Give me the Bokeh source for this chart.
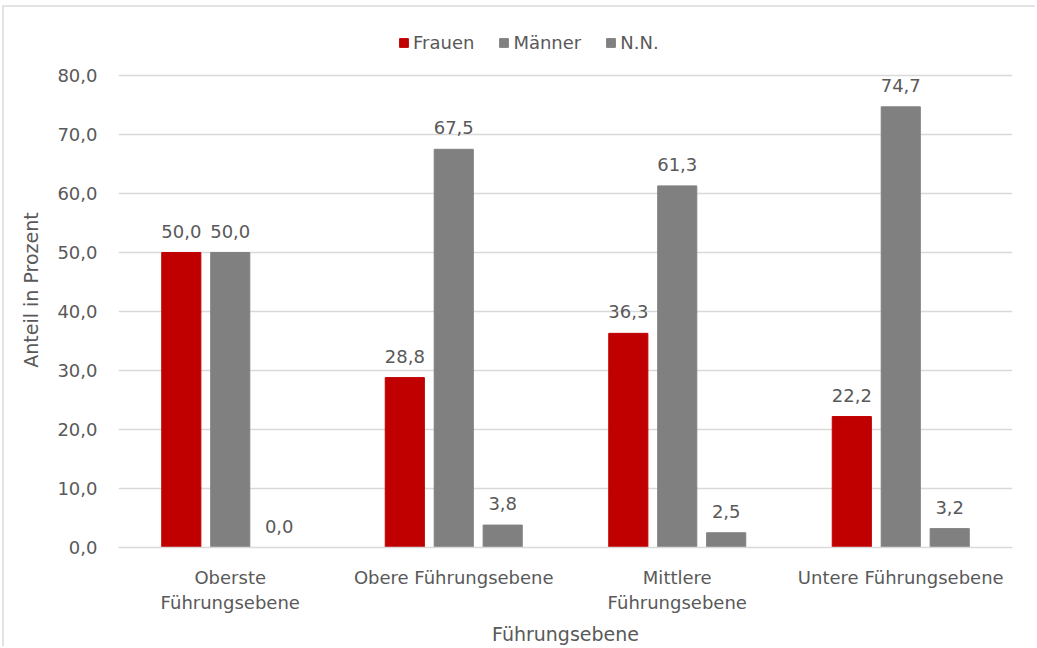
from bokeh.plotting import figure
from bokeh.models import (ColumnDataSource, FactorRange, Range1d, LabelSet, Legend,
                          LegendItem, FixedTicker, CustomJSTickFormatter)
from bokeh.core.properties import value
from bokeh.transform import dodge
from bokeh.embed import file_html
from bokeh.resources import INLINE

# Management levels (categories), two-line where the label is wrapped
levels = ["Oberste\nFührungsebene", "Obere Führungsebene",
          "Mittlere\nFührungsebene", "Untere Führungsebene"]

# Share in percent per group
frauen = [50.0, 28.8, 36.3, 22.2]
maenner = [50.0, 67.5, 61.3, 74.7]
nn = [0.0, 3.8, 2.5, 3.2]

series_names = ["Frauen", "Männer", "N.N."]
series_cols = ["frauen", "maenner", "nn"]
series_colors = ["#C00000", "#808080", "#808080"]
y_ticks = [0, 10, 20, 30, 40, 50, 60, 70, 80]


def fmt(v):
    return f"{v:.1f}".replace(".", ",")


source = ColumnDataSource(data=dict(
    level=levels,
    frauen=frauen, maenner=maenner, nn=nn,
    frauen_lbl=[fmt(v) for v in frauen],
    maenner_lbl=[fmt(v) for v in maenner],
    nn_lbl=[fmt(v) for v in nn],
))

FONT = "DejaVu Sans"
TEXT = "#595959"
GRID = "#d9d9d9"

# the frame reaches above the 80 gridline to leave room for the legend
p = figure(width=1033, height=641, output_backend="svg", toolbar_location=None,
           x_range=FactorRange(factors=levels, range_padding=0),
           y_range=Range1d(0, 87.3),
           min_border_left=114, min_border_right=25,
           min_border_top=25, min_border_bottom=101)
p.styles = {"border-left": "2px solid #e3e3e3", "border-top": "2px solid #e3e3e3"}
p.margin = (5, 0, 0, 2)
p.outline_line_color = None
p.background_fill_color = "white"
p.border_fill_color = "white"

offsets = [-0.219, 0.0, 0.219]
bar_w = 0.175
renderers = []
for col, color, off in zip(series_cols, series_colors, offsets):
    r = p.vbar(x=dodge("level", off, range=p.x_range), top=col, width=bar_w,
               source=source, fill_color=color, line_color=color)
    renderers.append(r)
    labels = LabelSet(x=dodge("level", off, range=p.x_range), y=col, text=col + "_lbl",
                      source=source, text_align="center", text_baseline="bottom",
                      y_offset=15, text_color=TEXT, text_font=value(FONT),
                      text_font_size="18px")
    p.add_layout(labels)

legend = Legend(items=[LegendItem(label=n, renderers=[r]) for n, r in zip(series_names, renderers)],
                orientation="horizontal", location=(280, 494),
                border_line_color=None, background_fill_alpha=0,
                label_text_color=TEXT, label_text_font=FONT, label_text_font_size="18px",
                glyph_width=11, glyph_height=11, spacing=24, label_standoff=4,
                padding=0, margin=0)
p.add_layout(legend)

# Y axis
p.yaxis.ticker = FixedTicker(ticks=y_ticks)
p.yaxis.formatter = CustomJSTickFormatter(code="return tick.toFixed(1).replace('.', ',');")
p.yaxis.axis_line_color = None
p.yaxis.major_tick_line_color = None
p.yaxis.minor_tick_line_color = None
p.yaxis.major_tick_out = 0
p.yaxis.major_label_standoff = 21
p.yaxis.major_label_text_color = TEXT
p.yaxis.major_label_text_font = FONT
p.yaxis.major_label_text_font_size = "18px"
p.yaxis.axis_label = "Anteil in Prozent"
p.yaxis.axis_label_text_color = TEXT
p.yaxis.axis_label_text_font = FONT
p.yaxis.axis_label_text_font_size = "19px"
p.yaxis.axis_label_text_font_style = "normal"
p.yaxis.axis_label_standoff = 12

# X axis
p.xaxis.axis_line_color = GRID
p.xaxis.axis_line_width = 1.5
p.xaxis.major_tick_line_color = None
p.xaxis.minor_tick_line_color = None
p.xaxis.major_tick_out = 0
p.xaxis.major_label_standoff = 19
p.xaxis.major_label_text_color = TEXT
p.xaxis.major_label_text_font = FONT
p.xaxis.major_label_text_font_size = "18px"
p.xaxis.axis_label = "Führungsebene"
p.xaxis.axis_label_text_color = TEXT
p.xaxis.axis_label_text_font = FONT
p.xaxis.axis_label_text_font_size = "19px"
p.xaxis.axis_label_text_font_style = "normal"
p.xaxis.axis_label_standoff = 7

p.xgrid.grid_line_color = None
p.ygrid.grid_line_color = GRID
p.ygrid.grid_line_width = 1.5

open("out.html", "w").write(file_html(p, INLINE))
